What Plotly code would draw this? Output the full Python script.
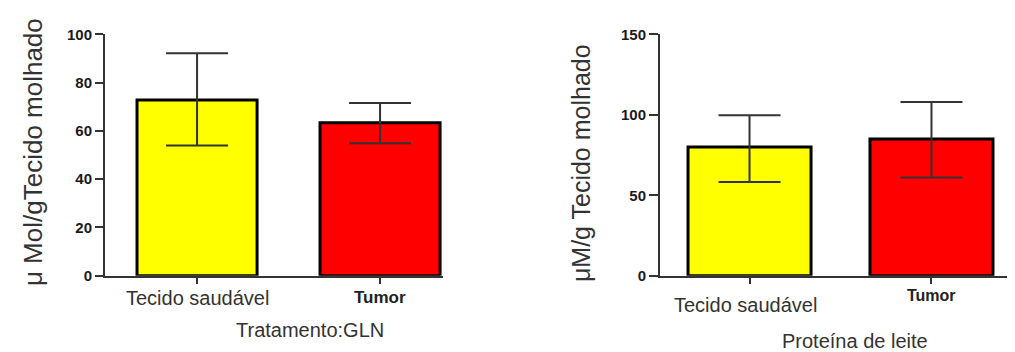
import plotly.graph_objects as go

W, H = 1015, 352

categories = ["Tecido saudável", "Tumor"]
gln_means = [72.8, 63.4]
gln_err_plus = [19.4, 8.2]
gln_err_minus = [18.8, 8.5]
leite_means = [80.0, 85.0]
leite_err_plus = [19.8, 23.0]
leite_err_minus = [21.7, 24.0]
gln_yticks = [0, 20, 40, 60, 80, 100]
leite_yticks = [0, 50, 100, 150]
bar_colors = ["#FFFF00", "#FF0000"]

xi = [0, 1]

# empirical page mapping correction (screen -> figure coords)
OX, OY, SY = 8.0, 16.5, 0.9545

def px(p):
    return (p - OX) / W

def py(p):
    return 1 - ((p - OY) / SY) / H

fig = go.Figure()
fig.add_trace(go.Bar(
    x=xi, y=gln_means, width=0.656,
    marker=dict(color=bar_colors, line=dict(color="#000000", width=3)),
    error_y=dict(type="data", symmetric=False, array=gln_err_plus, arrayminus=gln_err_minus,
                 color="#333333", thickness=2, width=31),
    xaxis="x", yaxis="y", showlegend=False))
fig.add_trace(go.Bar(
    x=xi, y=leite_means, width=0.676,
    marker=dict(color=bar_colors, line=dict(color="#000000", width=3)),
    error_y=dict(type="data", symmetric=False, array=leite_err_plus, arrayminus=leite_err_minus,
                 color="#333333", thickness=2, width=31),
    xaxis="x2", yaxis="y2", showlegend=False))

ydom = [py(276), py(34)]
axis_common = dict(showgrid=False, zeroline=False, showline=True, linecolor="#333333", linewidth=2)
tickfont = dict(size=15, family="Arial, Liberation Sans, sans-serif", color="#1a1a1a", weight=700)

fig.update_layout(
    width=W, height=H, margin=dict(l=0, r=0, t=0, b=0),
    paper_bgcolor="white", plot_bgcolor="white",
    font=dict(family="Arial, Liberation Sans, sans-serif", color="#222222"),
    xaxis=dict(domain=[px(105), px(443)], range=[-0.503, 1.344], tickvals=xi,
               showticklabels=False, ticks="outside", ticklen=6, tickwidth=2, tickcolor="#333333",
               anchor="y", **axis_common),
    yaxis=dict(domain=ydom, range=[0, 100], tickvals=gln_yticks, ticks="outside", ticklen=8,
               tickwidth=2, tickcolor="#333333", anchor="x", tickfont=tickfont, **axis_common),
    xaxis2=dict(domain=[px(660), 1.0], range=[-0.492, 1.459 + 8 / 182], tickvals=xi,
                showticklabels=False, ticks="outside", ticklen=6, tickwidth=2, tickcolor="#333333",
                anchor="y2", **axis_common),
    yaxis2=dict(domain=ydom, range=[0, 150], tickvals=leite_yticks, ticks="outside", ticklen=9,
                tickwidth=2, tickcolor="#333333", anchor="x2", tickfont=tickfont, **axis_common),
)

ann = []
ann.append(dict(text=categories[0], x=0, xref="x", y=py(298), yref="paper", showarrow=False,
                font=dict(size=20, color="#333333"), xanchor="center", yanchor="middle"))
ann.append(dict(text="<b>" + categories[1] + "</b>", x=1, xref="x", y=py(298), yref="paper",
                showarrow=False, font=dict(size=17, color="#222222"), xanchor="center", yanchor="middle"))
ann.append(dict(text=categories[0], x=px(745), xref="paper", y=py(305), yref="paper", showarrow=False,
                font=dict(size=20, color="#333333"), xanchor="center", yanchor="middle"))
ann.append(dict(text="<b>" + categories[1] + "</b>", x=1, xref="x2", y=py(296), yref="paper",
                showarrow=False, font=dict(size=16, color="#222222"), xanchor="center", yanchor="middle"))
ann.append(dict(text="Tratamento:GLN", x=px(310), xref="paper", y=py(330), yref="paper",
                showarrow=False, font=dict(size=20, color="#333333"), xanchor="center", yanchor="middle"))
ann.append(dict(text="Proteína de leite", x=px(855), xref="paper", y=py(341), yref="paper",
                showarrow=False, font=dict(size=20, color="#333333"), xanchor="center", yanchor="middle"))
ann.append(dict(text="μ Mol/gTecido molhado", x=px(33), xref="paper", y=py(152), yref="paper",
                showarrow=False, textangle=-90, font=dict(size=26, color="#333333"),
                xanchor="center", yanchor="middle"))
ann.append(dict(text="μM/g Tecido molhado", x=px(581), xref="paper", y=py(163), yref="paper",
                showarrow=False, textangle=-90, font=dict(size=25, color="#333333"),
                xanchor="center", yanchor="middle"))
fig.update_layout(annotations=ann)

fig.write_html("out.html")
